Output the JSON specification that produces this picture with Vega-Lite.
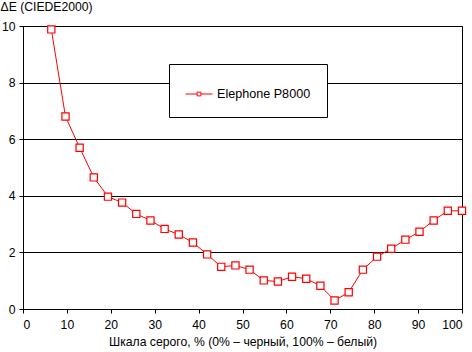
{
  "$schema": "https://vega.github.io/schema/vega-lite/v6.json",
  "width": 439,
  "height": 283,
  "autosize": {"type": "none"},
  "padding": {"left": 23, "top": 26, "right": 10, "bottom": 43},
  "background": "white",
  "config": {
    "view": {"stroke": "black", "strokeWidth": 1},
    "font": "Liberation Sans",
    "axis": {
      "labelFont": "Liberation Sans",
      "labelFontSize": 12.2,
      "labelColor": "black",
      "titleFont": "Liberation Sans",
      "titleFontSize": 12.2,
      "titleFontWeight": "normal",
      "titleColor": "black",
      "domainColor": "black",
      "tickColor": "black",
      "tickSize": 4,
      "gridColor": "black",
      "gridOpacity": 1
    },
    "legend": {
      "labelFont": "Liberation Sans",
      "labelFontSize": 12.6,
      "labelColor": "black"
    }
  },
  "data": {
    "values": [
      {"gray": 3.23, "dE": 25.0, "series": "Elephone P8000"},
      {"gray": 6.45, "dE": 9.88, "series": "Elephone P8000"},
      {"gray": 9.68, "dE": 6.80, "series": "Elephone P8000"},
      {"gray": 12.90, "dE": 5.70, "series": "Elephone P8000"},
      {"gray": 16.13, "dE": 4.65, "series": "Elephone P8000"},
      {"gray": 19.35, "dE": 3.97, "series": "Elephone P8000"},
      {"gray": 22.58, "dE": 3.76, "series": "Elephone P8000"},
      {"gray": 25.81, "dE": 3.36, "series": "Elephone P8000"},
      {"gray": 29.03, "dE": 3.13, "series": "Elephone P8000"},
      {"gray": 32.26, "dE": 2.83, "series": "Elephone P8000"},
      {"gray": 35.48, "dE": 2.63, "series": "Elephone P8000"},
      {"gray": 38.71, "dE": 2.35, "series": "Elephone P8000"},
      {"gray": 41.94, "dE": 1.93, "series": "Elephone P8000"},
      {"gray": 45.16, "dE": 1.49, "series": "Elephone P8000"},
      {"gray": 48.39, "dE": 1.54, "series": "Elephone P8000"},
      {"gray": 51.61, "dE": 1.39, "series": "Elephone P8000"},
      {"gray": 54.84, "dE": 1.01, "series": "Elephone P8000"},
      {"gray": 58.06, "dE": 0.97, "series": "Elephone P8000"},
      {"gray": 61.29, "dE": 1.14, "series": "Elephone P8000"},
      {"gray": 64.52, "dE": 1.07, "series": "Elephone P8000"},
      {"gray": 67.74, "dE": 0.82, "series": "Elephone P8000"},
      {"gray": 70.97, "dE": 0.30, "series": "Elephone P8000"},
      {"gray": 74.19, "dE": 0.59, "series": "Elephone P8000"},
      {"gray": 77.42, "dE": 1.39, "series": "Elephone P8000"},
      {"gray": 80.65, "dE": 1.85, "series": "Elephone P8000"},
      {"gray": 83.87, "dE": 2.13, "series": "Elephone P8000"},
      {"gray": 87.10, "dE": 2.45, "series": "Elephone P8000"},
      {"gray": 90.32, "dE": 2.73, "series": "Elephone P8000"},
      {"gray": 93.55, "dE": 3.13, "series": "Elephone P8000"},
      {"gray": 96.77, "dE": 3.47, "series": "Elephone P8000"},
      {"gray": 100, "dE": 3.47, "series": "Elephone P8000"}
    ]
  },
  "encoding": {
    "x": {
      "field": "gray",
      "type": "quantitative",
      "scale": {"domain": [0, 100], "nice": false},
      "axis": {
        "values": [0, 10, 20, 30, 40, 50, 60, 70, 80, 90, 100],
        "grid": false,
        "labelPadding": 5,
        "title": "Шкала серого, % (0% – черный, 100% – белый)",
        "titlePadding": 5
      }
    },
    "y": {
      "field": "dE",
      "type": "quantitative",
      "scale": {"domain": [0, 10], "nice": false},
      "axis": {
        "values": [0, 2, 4, 6, 8, 10],
        "grid": true,
        "labelPadding": 4,
        "title": "ΔE (CIEDE2000)",
        "titleAngle": 0,
        "titleAlign": "left",
        "titleBaseline": "alphabetic",
        "titleX": -23,
        "titleY": -16
      }
    },
    "color": {
      "field": "series",
      "type": "nominal",
      "scale": {"range": ["#ff0000"]},
      "legend": {
        "title": null,
        "orient": "none",
        "legendX": 146,
        "legendY": 38,
        "strokeColor": "black",
        "fillColor": "white",
        "padding": 16,
        "symbolType": "M-1,0H-0.14M0.14,0H1M-0.14,-0.14H0.14V0.14H-0.14Z",
        "symbolSize": 729,
        "symbolStrokeWidth": 1,
        "symbolFillColor": "white",
        "labelOffset": 4
      }
    }
  },
  "layer": [
    {"mark": {"type": "line", "strokeWidth": 1, "clip": true}},
    {
      "transform": [{"filter": "datum.dE <= 10"}],
      "mark": {"type": "point", "shape": "square", "size": 52, "filled": false, "fill": "white", "fillOpacity": 1, "opacity": 1, "strokeWidth": 1.2, "clip": false}
    }
  ]
}
